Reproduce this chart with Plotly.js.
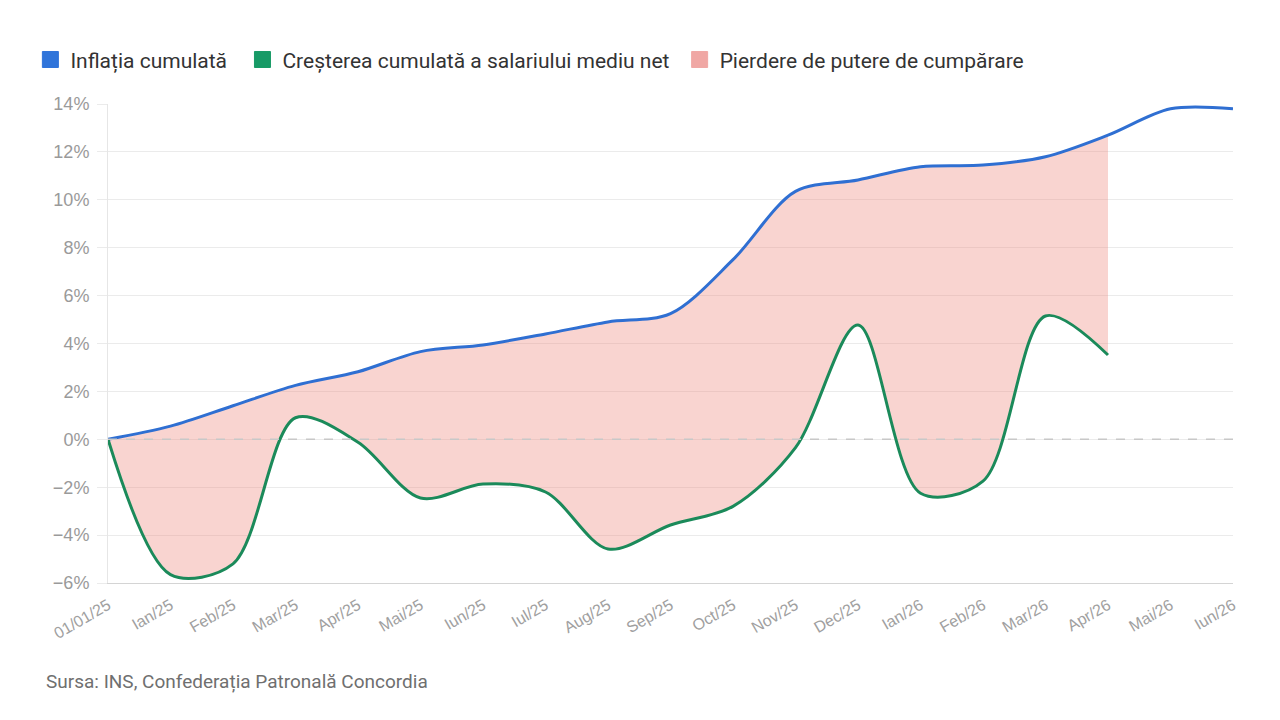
<!DOCTYPE html>
<html>
<head>
<meta charset="utf-8">
<script src="https://cdn.plot.ly/plotly-3.0.1.min.js"></script>
<style>
  html, body { margin: 0; padding: 0; background: #ffffff; }
  #chart { width: 1280px; height: 720px; }
</style>
</head>
<body>
<div id="chart"></div>
<script>
// Monthly points, from the start of 2025 to June 2026
const months = ["01/01/25", "Ian/25", "Feb/25", "Mar/25", "Apr/25", "Mai/25", "Iun/25", "Iul/25",
  "Aug/25", "Sep/25", "Oct/25", "Nov/25", "Dec/25", "Ian/26", "Feb/26", "Mar/26", "Apr/26",
  "Mai/26", "Iun/26"];

// Cumulative inflation, % since 01/01/25
const inflation = [0, 0.55, 1.4, 2.25, 2.82, 3.66, 3.94, 4.4, 4.9, 5.25, 7.5, 10.35, 10.83,
  11.38, 11.45, 11.8, 12.7, 13.8, 13.8];

// Cumulative growth of the average net wage, % since 01/01/25 (published through Apr/26)
const wageGrowth = [0, -5.65, -5.2, 0.9, -0.12, -2.45, -1.87, -2.2, -4.58, -3.58, -2.8, -0.35,
  4.77, -2.25, -1.75, 5.15, 3.52];

const legendLabels = ["Inflația cumulată", "Creșterea cumulată a salariului mediu net",
  "Pierdere de putere de cumpărare"];
const sourceNote = "Sursa: INS, Confederația Patronală Concordia";

const BLUE = "#2f6fd2";
const GREEN = "#1b8a5a";
const FILL = "rgba(236, 128, 118, 0.34)";

const wageMonths = months.slice(0, wageGrowth.length);
const inflationOverlap = inflation.slice(0, wageGrowth.length);
const lineShape = { shape: "spline", smoothing: 0.9 };
// extra room after a legend entry
const pad = (n) => "\u00a0".repeat(n);

const traces = [
  // lower edge of the shaded gap
  { x: wageMonths, y: wageGrowth, type: "scatter", mode: "lines",
    line: Object.assign({ width: 0, color: "rgba(0,0,0,0)" }, lineShape),
    showlegend: false, hoverinfo: "skip" },
  // shaded gap between inflation and wage growth
  { x: wageMonths, y: inflationOverlap, type: "scatter", mode: "lines", fill: "tonexty",
    fillcolor: FILL, line: Object.assign({ width: 0, color: "rgba(0,0,0,0)" }, lineShape),
    showlegend: false, hoverinfo: "skip" },
  // inflation line
  { x: months, y: inflation, type: "scatter", mode: "lines", name: legendLabels[0],
    line: Object.assign({ width: 3, color: BLUE }, lineShape), showlegend: false },
  // wage growth line
  { x: wageMonths, y: wageGrowth, type: "scatter", mode: "lines", name: legendLabels[1],
    line: Object.assign({ width: 3, color: GREEN }, lineShape), showlegend: false },
  // legend swatches
  { x: [null], y: [null], type: "scatter", mode: "markers", name: legendLabels[0] + pad(2),
    marker: { symbol: "square", size: 16, color: "#2f74da", line: { width: 1, color: "#2f74da" } } },
  { x: [null], y: [null], type: "scatter", mode: "markers", name: legendLabels[1] + pad(1),
    marker: { symbol: "square", size: 16, color: "#179a66", line: { width: 1, color: "#179a66" } } },
  { x: [null], y: [null], type: "scatter", mode: "markers", name: legendLabels[2],
    marker: { symbol: "square", size: 16, color: "#f0a7a4", line: { width: 1, color: "#f0a7a4" } } }
];

const layout = {
  width: 1280,
  height: 720,
  margin: { l: 108, r: 47, t: 104, b: 137 },
  paper_bgcolor: "#ffffff",
  plot_bgcolor: "#ffffff",
  font: { family: "Liberation Sans, Arial, sans-serif", color: "#9a9a9a" },
  showlegend: true,
  legend: {
    orientation: "h",
    traceorder: "normal",
    x: -0.0690, xanchor: "left",
    y: 1.135, yanchor: "top",
    font: { family: "Roboto, sans-serif", size: 21, color: "#333333" },
    itemclick: false, itemdoubleclick: false,
    bgcolor: "rgba(0,0,0,0)"
  },
  xaxis: {
    type: "category",
    range: [0, months.length - 1],
    showgrid: false,
    showline: true, linecolor: "#d4d4d4", linewidth: 1,
    zeroline: false,
    ticks: "", tickangle: -30,
    ticklabelstandoff: 6,
    tickfont: { family: "Liberation Sans, Arial, sans-serif", size: 16, color: "#a0a0a0" },
    fixedrange: true
  },
  yaxis: {
    range: [-6, 14],
    dtick: 2,
    ticksuffix: "%",
    showgrid: true, gridcolor: "#ebebeb", gridwidth: 1,
    showline: true, linecolor: "#e6e6e6", linewidth: 1,
    zeroline: false,
    ticks: "outside", ticklen: 10, tickcolor: "#ebebeb",
    ticklabelstandoff: 4,
    tickfont: { family: "Liberation Sans, Arial, sans-serif", size: 18, color: "#9a9a9a" },
    fixedrange: true
  },
  shapes: [
    { type: "line", xref: "paper", x0: 0, x1: 1, yref: "y", y0: 0, y1: 0,
      line: { color: "#c8c8c8", width: 1.5, dash: "dash" }, layer: "above" }
  ],
  annotations: [
    { text: sourceNote, xref: "paper", yref: "paper", x: -0.0570, y: -0.205,
      xanchor: "left", yanchor: "middle", showarrow: false,
      font: { family: "Roboto, sans-serif", size: 19, color: "#6f6f6f" } }
  ]
};

Plotly.newPlot("chart", traces, layout, { displayModeBar: false, staticPlot: true });
</script>
</body>
</html>
